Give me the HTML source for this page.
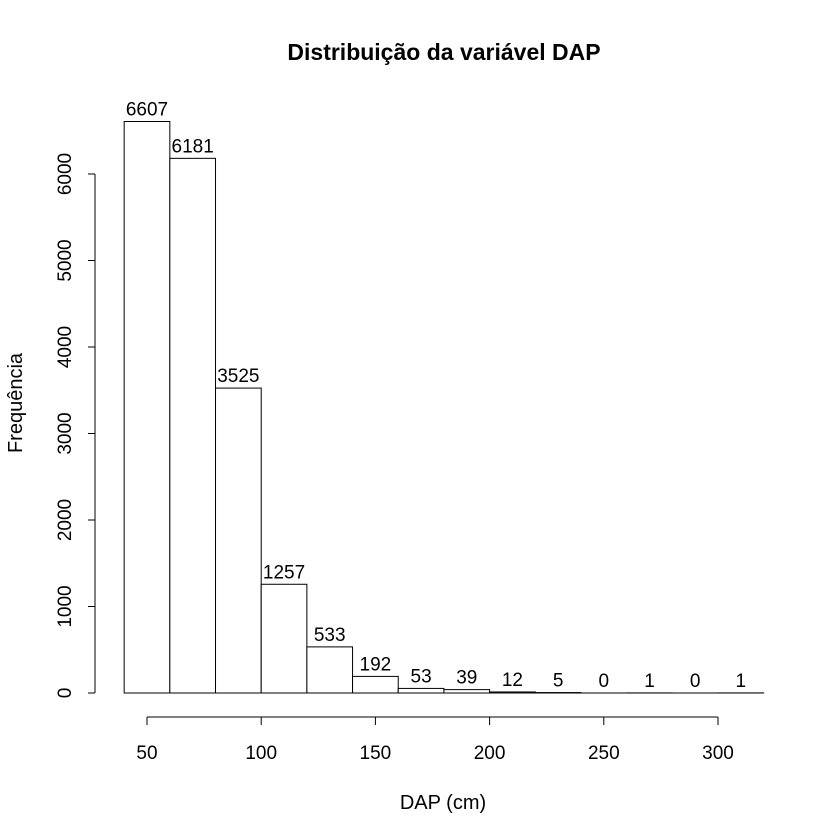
<!DOCTYPE html>
<html><head><meta charset="utf-8"><style>
html,body{margin:0;padding:0;background:#fff;}
svg{display:block;font-family:"Liberation Sans",Arial,sans-serif;}
</style></head><body>
<svg id="chart" width="840" height="840" viewBox="0 0 840 840">
<rect width="840" height="840" fill="#fff"/>
<text x="444" y="60" text-anchor="middle" font-size="23" font-weight="bold">Distribuição da variável DAP</text>
<text x="443" y="809" text-anchor="middle" font-size="20">DAP (cm)</text>
<text transform="translate(22,403) rotate(-90)" text-anchor="middle" font-size="20">Frequência</text>
<g id="bars"></g>
<g id="xaxis"></g>
<g id="yaxis"></g>
</svg>
<script>
const binStarts = [40,60,80,100,120,140,160,180,200,220,240,260,280,300];
const binWidth = 20;
const counts = [6607,6181,3525,1257,533,192,53,39,12,5,0,1,0,1];
const xTicks = [50,100,150,200,250,300];
const yTicks = [0,1000,2000,3000,4000,5000,6000];

const NS = "http://www.w3.org/2000/svg";
function xs(v){ return 147 + (v-50)*(571/250); }
function ys(v){ return 693 - v*(519/6000); }
function mk(tag, attrs, parent){
  const e = document.createElementNS(NS, tag);
  for (const k in attrs) e.setAttribute(k, attrs[k]);
  parent.appendChild(e); return e;
}
const bars = document.getElementById('bars');
binStarts.forEach((b,i)=>{
  const x0 = xs(b), x1 = xs(b+binWidth), y = ys(counts[i]);
  const r = mk('rect',{x:x0,y:y,width:x1-x0,height:693-y,fill:'#fff',stroke:'#000','stroke-width':1},bars);
  
  
  const base = mk('line',{x1:x0,x2:x1,y1:693,y2:693,stroke:'#000'},bars);
  
  
  const t = mk('text',{x:(x0+x1)/2,y:y-6,'text-anchor':'middle','font-size':19},bars);
  t.textContent = counts[i];
  
  
});
const xa = document.getElementById('xaxis');
const xl = mk('line',{x1:xs(xTicks[0]),x2:xs(xTicks[xTicks.length-1]),y1:717,y2:717,stroke:'#000'},xa);


xTicks.forEach(v=>{
  mk('line',{x1:xs(v),x2:xs(v),y1:717,y2:725,stroke:'#000'},xa);
  const t = mk('text',{x:xs(v),y:759,'text-anchor':'middle','font-size':19},xa);
  t.textContent = v;
  
  
});
const ya = document.getElementById('yaxis');
const yl = mk('line',{x1:95,x2:95,y1:ys(yTicks[0]),y2:ys(yTicks[yTicks.length-1]),stroke:'#000'},ya);


yTicks.forEach(v=>{
  mk('line',{x1:88,x2:95,y1:ys(v),y2:ys(v),stroke:'#000'},ya);
  const t = mk('text',{x:0,y:0,'text-anchor':'middle','font-size':19,transform:'translate(71,'+ys(v)+') rotate(-90)'},ya);
  t.textContent = v;
  
  
});
</script>
</body></html>
